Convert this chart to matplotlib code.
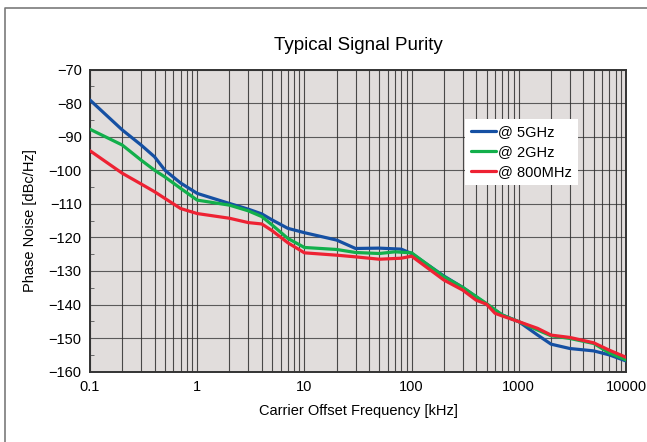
import numpy as np
import matplotlib
matplotlib.use('Agg')
import matplotlib.pyplot as plt
from matplotlib.lines import Line2D
from matplotlib.ticker import FixedLocator, NullFormatter

plt.rcParams['font.family'] = ['Liberation Sans', 'DejaVu Sans']

# --- data (offset in kHz, phase noise in dBc/Hz) ---
freq_5g = [0.1, 0.2, 0.3, 0.4, 0.5, 0.7, 1, 2, 3, 4, 5, 7, 10, 20, 30, 50, 80,
           100, 200, 300, 500, 700, 1000, 1500, 2000, 3000, 5000, 7000, 10000]
pn_5g = [-79.1, -88.0, -92.5, -96.0, -100.0, -103.8, -106.9, -109.9, -111.6,
         -113.0, -114.8, -117.3, -118.6, -120.8, -123.3, -123.2, -123.5,
         -124.8, -131.5, -134.9, -139.9, -143.1, -145.1, -149.1, -151.8,
         -153.1, -153.8, -155.0, -156.8]

freq_2g = [0.1, 0.2, 0.3, 0.4, 0.5, 0.7, 1, 2, 3, 4, 5, 7, 10, 20, 30, 50, 70,
           100, 200, 300, 500, 700, 1000, 1500, 2000, 3000, 5000, 7000, 10000]
pn_2g = [-87.8, -92.5, -97.0, -100.0, -102.0, -105.4, -108.9, -110.4, -112.1,
         -113.8, -116.3, -120.3, -123.0, -123.6, -124.5, -124.8, -124.3,
         -124.6, -131.7, -134.9, -139.7, -143.1, -145.1, -147.6, -149.3,
         -150.1, -151.6, -154.4, -156.5]

freq_800m = [0.1, 0.2, 0.3, 0.4, 0.5, 0.7, 1, 2, 3, 4, 5, 7, 10, 20, 30, 50,
             80, 100, 200, 300, 400, 500, 600, 700, 1000, 1500, 2000, 3000,
             5000, 7000, 10000]
pn_800m = [-94.2, -100.9, -104.1, -106.4, -108.4, -111.4, -112.9, -114.3,
           -115.6, -116.0, -118.0, -121.6, -124.6, -125.3, -125.8, -126.5,
           -126.2, -125.6, -132.7, -135.7, -138.7, -139.9, -142.6, -143.4,
           -145.1, -147.1, -149.1, -149.8, -151.4, -153.6, -155.7]

series_labels = ['@ 5GHz', '@ 2GHz', '@ 800MHz']
series_colors = ['#1550A3', '#12AF4B', '#EE2233']

x_ticks = [0.1, 1, 10, 100, 1000, 10000]
x_ticklabels = ['0.1', '1', '10', '100', '1000', '10000']
y_ticks = list(range(-160, -69, 10))

fig = plt.figure(figsize=(6.47, 4.42), dpi=100)
fig.patch.set_facecolor('white')

# outer frame (only left and top edges visible in the reference)
fig.add_artist(Line2D([5 / 647, 5 / 647, 1.0], [0.0, 1 - 8 / 442, 1 - 8 / 442],
                      transform=fig.transFigure, color='#7a7a7a', linewidth=1.2))

ax = fig.add_axes([90 / 647, 1 - 371.7 / 442, 536 / 647, 302.2 / 442])
ax.set_facecolor('#E1DDDC')
ax.set_xscale('log')
ax.set_xlim(0.1, 10000)
ax.set_ylim(-160, -70)

# grid: every decade minor line plus every 10 dB
minor_x = [m * 10.0 ** e for e in range(-1, 4) for m in range(2, 10)]
ax.xaxis.set_major_locator(FixedLocator(x_ticks))
ax.xaxis.set_minor_locator(FixedLocator(minor_x))
ax.xaxis.set_minor_formatter(NullFormatter())
ax.set_xticklabels(x_ticklabels)
ax.set_yticks(y_ticks)
ax.set_yticklabels(['\u2212' + str(abs(v)) for v in y_ticks])
ax.yaxis.set_minor_locator(FixedLocator(list(range(-155, -70, 10))))

ax.grid(True, which='both', axis='x', color='#2e2e2e', linewidth=0.8, alpha=0.85, zorder=1)
ax.grid(True, which='major', axis='y', color='#2e2e2e', linewidth=0.8, alpha=0.75, zorder=1)

ax.tick_params(axis='x', which='both', length=0, pad=6, labelsize=10.5)
ax.tick_params(axis='y', which='major', length=0, pad=6, labelsize=10.5)
ax.tick_params(axis='y', which='minor', direction='in', length=3, width=0.6, color='#555555')

for s in ax.spines.values():
    s.set_color('#333333')
    s.set_linewidth(1.4)

for fr, pn, lab, col in zip([freq_5g, freq_2g, freq_800m], [pn_5g, pn_2g, pn_800m],
                            series_labels, series_colors):
    ax.plot(fr, pn, color=col, linewidth=2.3, label=lab, zorder=3,
            solid_joinstyle='round', solid_capstyle='round')

leg = ax.legend(loc='upper left', bbox_to_anchor=(0.70, 0.835), frameon=True,
                fancybox=False, framealpha=1.0, edgecolor='white', fontsize=10.5,
                handlelength=1.7, handletextpad=0.15, borderpad=0.4,
                labelspacing=0.4, borderaxespad=0)
leg.get_frame().set_linewidth(0)

ax.set_title('Typical Signal Purity', fontsize=13.5, pad=14)
ax.set_xlabel('Carrier Offset Frequency [kHz]', fontsize=10.5, labelpad=7)
ax.set_ylabel('Phase Noise [dBc/Hz]', fontsize=10.5, labelpad=8)

fig.savefig('out.png', dpi=100, facecolor='white')
